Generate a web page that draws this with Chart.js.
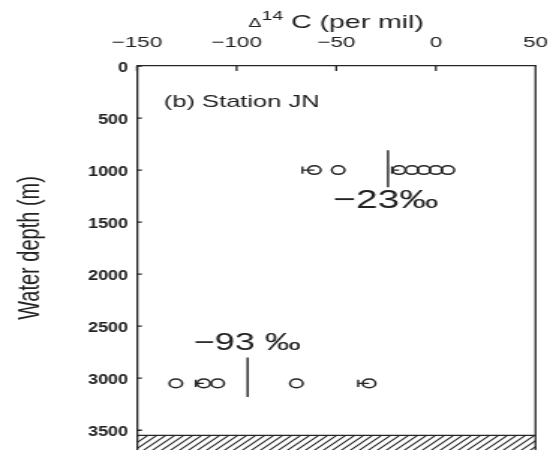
<!DOCTYPE html>
<html>
<head>
<meta charset="utf-8">
<script src="https://cdn.jsdelivr.net/npm/chart.js@4"></script>
<style>
html, body { margin: 0; padding: 0; background: #fff; overflow: hidden; }
#wrap { width: 371px; height: 450px; transform: scaleX(1.4987); transform-origin: 0 0; }
</style>
</head>
<body>
<div id="wrap"><canvas id="chart" width="371" height="450"></canvas></div>
<script>
// axis ticks
const deltaTicks = [-150, -100, -50, 0, 50];
const depthTicks = [0, 500, 1000, 1500, 2000, 2500, 3000, 3500];

// Δ14C samples, per mil
const shallowDepth = 1000;
const shallowValues = [-61, -49, -18.5, -12, -6, 0, 6];
const deepDepth = 3050;
const deepValues = [-130.5, -116.5, -109.5, -70, -33.5];

// short error bars on the left side of some circles
const errLow = [-67, -22, -120.5, -39];
const errHigh = [-61, -18.5, -116.5, -33.5];
const errDepth = [1000, 1000, 3050, 3050];

// mean lines
const meanValues = [-24, -94.5];
const meanTop = [810, 2800];
const meanBottom = [1165, 3180];
const meanLabels = ['\u221223\u2030', '\u221293 \u2030'];

const seafloorDepth = 3550;
const maxDepth = 3690;

const ink = '#262626';
const textInk = '#222';

// diagonal hatch for the sea floor
const tile = document.createElement('canvas');
tile.width = 6; tile.height = 6;
const tc = tile.getContext('2d');
tc.strokeStyle = ink;
tc.lineWidth = 1.1;
tc.beginPath();
tc.moveTo(0, 6); tc.lineTo(6, 0);
tc.moveTo(-1, 1); tc.lineTo(1, -1);
tc.moveTo(5, 7); tc.lineTo(7, 5);
tc.stroke();
const hatch = tc.createPattern(tile, 'repeat');

const datasets = [];
datasets.push({
    data: shallowValues.map(v => ({ x: v, y: shallowDepth }))
        .concat(deepValues.map(v => ({ x: v, y: deepDepth }))),
    pointStyle: 'circle',
    pointRadius: 4.3,
    pointBorderWidth: 1.5,
    borderColor: ink,
    backgroundColor: 'rgba(0,0,0,0)'
});
errLow.forEach((lo, i) => {
    datasets.push({
        data: [{ x: lo, y: errDepth[i] }, { x: errHigh[i], y: errDepth[i] }],
        showLine: true,
        borderColor: ink,
        borderWidth: 1.3,
        pointStyle: 'line',
        rotation: 90,
        pointRadius: [3.6, 0],
        pointBorderColor: ink,
        pointBorderWidth: 1.4
    });
});
meanValues.forEach((m, i) => {
    datasets.push({
        data: [{ x: m, y: meanTop[i] }, { x: m, y: meanBottom[i] }],
        showLine: true,
        borderColor: ink,
        borderWidth: 1.4,
        pointRadius: 0
    });
});
datasets.push({
    data: [{ x: -150, y: seafloorDepth }, { x: 50, y: seafloorDepth }],
    showLine: true,
    borderColor: ink,
    borderWidth: 1.3,
    pointRadius: 0,
    fill: { value: maxDepth },
    backgroundColor: hatch
});

const decorations = {
    id: 'decorations',
    afterDraw(chart) {
        const { ctx, chartArea, scales: { x, y } } = chart;
        ctx.save();
        // right frame line and inward tick marks
        ctx.strokeStyle = ink;
        ctx.lineWidth = 1.3;
        ctx.beginPath();
        ctx.moveTo(chartArea.right, chartArea.top);
        ctx.lineTo(chartArea.right, chartArea.bottom);
        deltaTicks.forEach(v => {
            const px = x.getPixelForValue(v);
            ctx.moveTo(px, chartArea.top);
            ctx.lineTo(px, chartArea.top + 5);
        });
        depthTicks.forEach(v => {
            const py = y.getPixelForValue(v);
            ctx.moveTo(chartArea.left, py);
            ctx.lineTo(chartArea.left + 3.3, py);
        });
        ctx.stroke();

        ctx.fillStyle = textInk;

        // depth tick labels, drawn narrower so the CSS widening does not blow them up
        ctx.save();
        ctx.textAlign = 'right';
        ctx.textBaseline = 'middle';
        ctx.font = 'bold 15px "Liberation Sans", Arial, sans-serif';
        ctx.translate(chartArea.left - 6, 0);
        ctx.scale(0.8, 1);
        depthTicks.forEach(v => {
            ctx.fillText(String(v), 0, y.getPixelForValue(v) + 2);
        });
        ctx.restore();

        ctx.textBaseline = 'alphabetic';
        ctx.textAlign = 'left';

        ctx.font = '17px "Liberation Sans", Arial, sans-serif';
        ctx.fillText('(b) Station JN', x.getPixelForValue(-136.5), y.getPixelForValue(396));

        ctx.font = '26px "Liberation Sans", Arial, sans-serif';
        ctx.fillText(meanLabels[0], x.getPixelForValue(-51.5), y.getPixelForValue(1365));
        ctx.font = '24px "Liberation Sans", Arial, sans-serif';
        ctx.fillText(meanLabels[1], x.getPixelForValue(-121.5), y.getPixelForValue(2731));

        // top axis title: Δ14C (per mil)
        const fBig = '19px "Liberation Sans", Arial, sans-serif';
        const fSmall = '13px "Liberation Sans", Arial, sans-serif';
        ctx.font = fSmall;
        const wD = ctx.measureText('\u0394').width;
        const w14 = ctx.measureText('14').width;
        ctx.font = fBig;
        const wRest = ctx.measureText(' C (per mil)').width;
        let tx = (chartArea.left + chartArea.right) / 2 - (wD + w14 + wRest) / 2;
        ctx.font = fSmall;
        ctx.fillText('\u0394', tx, 27);
        tx += wD;
        ctx.fillText('14', tx, 20);
        tx += w14;
        ctx.font = fBig;
        ctx.fillText(' C (per mil)', tx, 28);

        // left axis title
        ctx.translate(20, 248);
        ctx.rotate(-Math.PI / 2);
        ctx.textAlign = 'center';
        ctx.textBaseline = 'middle';
        ctx.font = '20px "Liberation Sans", Arial, sans-serif';
        ctx.fillText('Water depth (m)', 0, 0);
        ctx.restore();
    }
};

new Chart(document.getElementById('chart'), {
    type: 'scatter',
    data: { datasets },
    options: {
        responsive: false,
        devicePixelRatio: 1,
        animation: false,
        layout: { autoPadding: false, padding: { left: 0, top: 0, bottom: 0, right: 13.7 } },
        plugins: { legend: { display: false }, tooltip: { enabled: false } },
        scales: {
            x: {
                type: 'linear',
                position: 'top',
                min: -150,
                max: 50,
                afterBuildTicks: s => { s.ticks = deltaTicks.map(v => ({ value: v })); },
                afterFit: s => { s.height = 66; s.paddingLeft = 0; s.paddingRight = 0; },
                grid: { drawOnChartArea: false, drawTicks: false },
                border: { display: true, color: ink, width: 1.3 },
                ticks: {
                    color: textInk,
                    font: { family: '"Liberation Sans", Arial, sans-serif', size: 15 },
                    padding: 14,
                    maxRotation: 0,
                    callback: v => String(v).replace('-', '\u2212')
                }
            },
            y: {
                type: 'linear',
                reverse: true,
                min: 0,
                max: maxDepth,
                afterBuildTicks: s => { s.ticks = depthTicks.map(v => ({ value: v })); },
                afterFit: s => { s.width = 91.4; s.paddingTop = 0; s.paddingBottom = 0; },
                grid: { drawOnChartArea: false, drawTicks: false },
                border: { display: true, color: ink, width: 1.3 },
                ticks: { display: false }
            }
        }
    },
    plugins: [decorations]
});
</script>
</body>
</html>
